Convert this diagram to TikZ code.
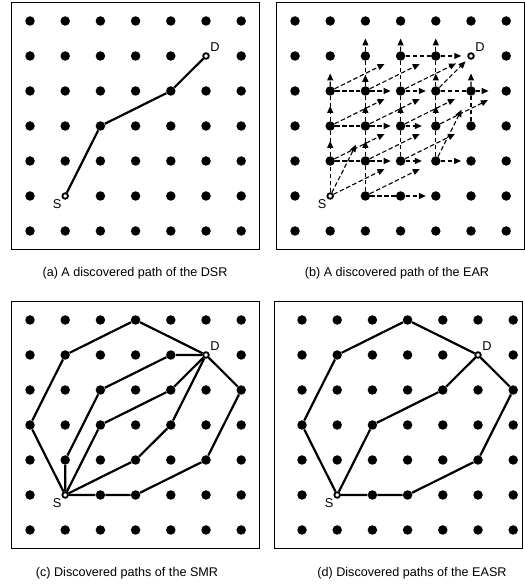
\documentclass[tikz,border=0pt]{standalone}
\usepackage{fontspec}
\setmainfont{Liberation Sans}
\usetikzlibrary{positioning, calc, arrows.meta, decorations.markings}
\tikzset{
  dot/.style={circle, fill, inner sep=0pt, minimum size=9.5pt},
  endpt/.style={circle, draw, fill=white, line width=1.8pt, inner sep=0pt, minimum size=5.6pt},
  tag/.style={inner sep=0pt, font=\fontsize{12.8}{14}\selectfont},
  caption/.style={inner sep=0pt, font=\fontsize{12.6}{14}\selectfont},
  frame/.style={line width=0.9pt},
  route/.style={line width=2.2pt, line join=round},
  flood/.style={line width=1.1pt, dash pattern=on 4.5pt off 2.5pt},
  fwd/.style={flood, -{Triangle[length=7pt, width=6pt]}, shorten >=#1},
  fwd/.default=5pt,
  thru/.style={flood, postaction={decorate}, decoration={markings,
    mark=at position #1 with {\arrow{Triangle[length=7pt, width=6pt]}}}},
  thru/.default=0.6,
}
\begin{document}
\begin{tikzpicture}[x=1pt, y=1pt]
\useasboundingbox (0,0) rectangle (525,584);
\foreach \p/\ox/\oy/\dx/\cx/\cy/\txt in {
    a/30/353/0/135/311/{(a) A discovered path of the DSR},
    b/295/353/0/397/311/{(b) A discovered path of the EAR},
    c/30/54/0/127/11/{(c) Discovered paths of the SMR},
    d/302/54/-0.27/412/11/{(d) Discovered paths of the EASR}}{
  \node[caption] (\p-cap) at (\cx,\cy) {\txt};
  \begin{scope}[shift={(\ox,\oy)}, x=35.2pt, y=35pt]
    \draw[frame] (-0.52+\dx,-0.52) rectangle (6.52+\dx,6.52);
    \foreach \i in {0,...,6}
      \foreach \j in {0,...,6}{
        \ifnum\i\j=11\relax\else\ifnum\i\j=55\relax\else
          \node[dot] (\p-\i-\j) at (\i,\j) {};
        \fi\fi}
    \node[endpt] (\p-S) at (1,1) {};
    \node[endpt] (\p-D) at (5,5) {};
    \node[tag, below left=1pt and 1pt of \p-S] (\p-s) {S};
    \node[tag, above right=1.5pt and 1.5pt of \p-D] (\p-d) {D};
  \end{scope}
}
% (a) DSR
\draw[route] (a-S) -- (a-2-3) -- (a-4-4) -- (a-D);
% (b) EAR
\foreach \u/\v in {S/1-2, 1-2/2-2, 1-3/2-3, 1-4/2-4, 2-1/2-2, 2-1/3-1,
    3-2/3-3, 3-4/3-5, 3-5/4-5, 4-4/5-4, 5-3/5-4, 4-2/4-3}
  \draw[flood] (b-\u) -- (b-\v);
\foreach \u/\v/\f in {1-2/1-3/.6, 1-3/1-4/.6, 2-2/2-3/.6, 2-3/2-4/.6,
    2-4/2-5/.45, 3-3/3-4/.6, 4-3/4-4/.6, 4-4/4-5/.5}
  \draw[thru=\f] (b-\u) -- (b-\v);
\foreach \u/\v/\s in {2-2/3-2/5pt, 2-3/3-3/5pt, 2-4/3-4/5pt, 3-4/4-4/5pt,
    3-1/4-1/5pt, 4-5/D/6pt, 4-2/5-2/5pt, 3-2/4-2/9pt, 3-3/4-3/9pt,
    S/3-2/13pt, 1-2/3-3/13pt, 1-3/3-4/13pt, 1-4/3-5/13pt, 2-1/4-2/13pt,
    2-2/4-3/13pt, 2-3/4-4/13pt, 2-4/4-5/13pt, 3-2/5-3/13pt, 3-3/5-4/13pt,
    3-4/D/13pt, 4-4/D/4pt, S/2-3/16pt, 4-2/5-4/16pt}
  \draw[fwd=\s] (b-\u) -- (b-\v);
\foreach \u/\v/\f in {1-4/1-5/.5, 2-5/2-6/.5, 3-5/3-6/.5, 4-5/4-6/.5,
    5-4/D/.5, 5-4/6-4/.5, 4-3/6-4/.74}
  \draw[fwd=0pt] (b-\u) -- ($(b-\u)!\f!(b-\v)$);
% (c) SMR
\draw[route] (c-S) -- (c-0-3) -- (c-1-5) -- (c-3-6) -- (c-D);
\draw[route] (c-S) -- (c-1-2) -- (c-2-4) -- (c-4-5) -- (c-D);
\draw[route] (c-S) -- (c-2-3) -- (c-4-4) -- (c-D);
\draw[route] (c-S) -- (c-3-2) -- (c-4-3) -- (c-D);
\draw[route] (c-S) -- (c-2-1) -- (c-3-1) -- (c-5-2) -- (c-6-4) -- (c-D);
% (d) EASR
\draw[route] (d-S) -- (d-0-3) -- (d-1-5) -- (d-3-6) -- (d-D);
\draw[route] (d-S) -- (d-2-3) -- (d-4-4) -- (d-D);
\draw[route] (d-S) -- (d-2-1) -- (d-3-1) -- (d-5-2) -- (d-6-4) -- (d-D);
\end{tikzpicture}
\end{document}
